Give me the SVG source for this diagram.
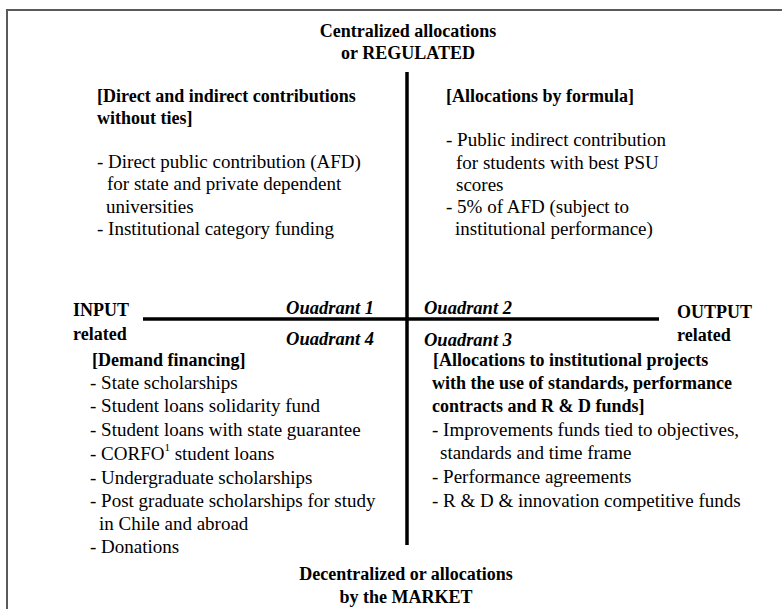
<svg xmlns="http://www.w3.org/2000/svg" width="782" height="609" viewBox="0 0 782 609">
<style>
text{font-family:"Liberation Serif","Times New Roman",serif;fill:#000}
.r{font-size:19px}
.b{font-size:18px;font-weight:bold}
.q{font-size:18.5px;font-weight:bold;font-style:italic}
.c{text-anchor:middle}
.ax{stroke:#000;stroke-width:3.5;fill:none}
.fr{stroke:#5a5a5a;stroke-width:2;fill:none}
</style>
<rect width="782" height="609" fill="#fff"/>
<path class="fr" d="M7,609 V10 H782"/>
<g id="axes">
<line class="ax" x1="407" y1="72" x2="407" y2="545"/>
<line class="ax" x1="143" y1="319" x2="659" y2="319"/>
</g>
<g id="top-label">
<text class="b c" x="408" y="37">Centralized allocations</text>
<text class="b c" x="408" y="59">or REGULATED</text>
</g>
<g id="bottom-label">
<text class="b c" x="406" y="580">Decentralized or allocations</text>
<text class="b c" x="406" y="603">by the MARKET</text>
</g>
<g id="input-label">
<text class="b" x="73" y="316">INPUT</text>
<text class="b" x="73" y="340">related</text>
</g>
<g id="output-label">
<text class="b" x="677" y="318">OUTPUT</text>
<text class="b" x="677" y="341">related</text>
</g>
<g id="quadrant1">
<text class="q" x="374" y="314" text-anchor="end">Ouadrant 1</text>
<text class="b" x="97" y="102">[Direct and indirect contributions</text>
<text class="b" x="97" y="124">without ties]</text>
<text class="r" x="97" y="168">- Direct public contribution (AFD)</text>
<text class="r" x="107" y="190">for state and private dependent</text>
<text class="r" x="106" y="213">universities</text>
<text class="r" x="97" y="235">- Institutional category funding</text>
</g>
<g id="quadrant2">
<text class="q" x="424" y="314">Ouadrant 2</text>
<text class="b" x="446" y="102">[Allocations by formula]</text>
<text class="r" x="446" y="146">- Public indirect contribution</text>
<text class="r" x="456" y="169">for students with best PSU</text>
<text class="r" x="456" y="191">scores</text>
<text class="r" x="446" y="213">- 5% of AFD (subject to</text>
<text class="r" x="455" y="235">institutional performance)</text>
</g>
<g id="quadrant4">
<text class="q" x="374" y="345" text-anchor="end">Ouadrant 4</text>
<text class="b" x="92" y="366">[Demand financing]</text>
<text class="r" x="90" y="389">- State scholarships</text>
<text class="r" x="90" y="412">- Student loans solidarity fund</text>
<text class="r" x="90" y="436">- Student loans with state guarantee</text>
<text class="r" x="90" y="460">- CORFO<tspan font-size="11" dy="-9">1</tspan><tspan dy="9"> student loans</tspan></text>
<text class="r" x="90" y="484">- Undergraduate scholarships</text>
<text class="r" x="90" y="507">- Post graduate scholarships for study</text>
<text class="r" x="99" y="530">in Chile and abroad</text>
<text class="r" x="90" y="553">- Donations</text>
</g>
<g id="quadrant3">
<text class="q" x="424" y="346">Ouadrant 3</text>
<text class="b" x="433" y="366">[Allocations to institutional projects</text>
<text class="b" x="432" y="389">with the use of standards, performance</text>
<text class="b" x="432" y="412">contracts and R &amp; D funds]</text>
<text class="r" x="432" y="436">- Improvements funds tied to objectives,</text>
<text class="r" x="440" y="459">standards and time frame</text>
<text class="r" x="432" y="483">- Performance agreements</text>
<text class="r" x="432" y="507">- R &amp; D &amp; innovation competitive funds</text>
</g>
</svg>
